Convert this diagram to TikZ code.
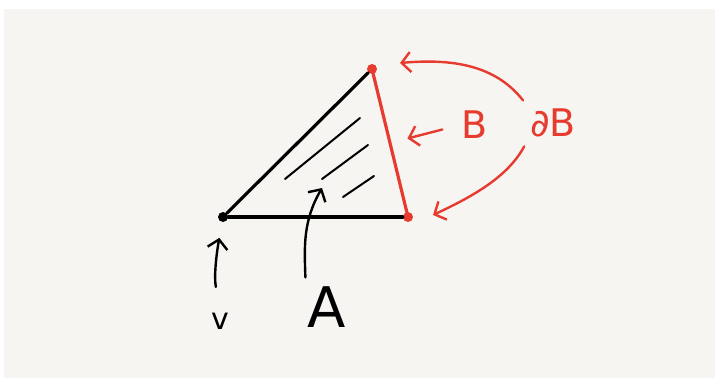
\documentclass[tikz,border=0pt]{standalone}
\usepackage{fontspec}
\setmainfont{DejaVu Sans}
\usepackage{tikz}
\usetikzlibrary{positioning,arrows.meta}
\definecolor{pen}{HTML}{E63B2E}
\definecolor{paper}{HTML}{F7F5F1}

\begin{document}
\begin{tikzpicture}[x=1pt, y=1pt, line cap=round, line join=round, dot/.style={circle, fill, inner sep=0pt, minimum size=10pt}, lbl/.style={inner sep=2pt}, edge/.style={line width=3.2pt}, hatch/.style={line width=2pt}, ptr/.style={line width=2.4pt, -{Straight Barb[length=9pt, width=20pt, line width=2.4pt]}}]
\useasboundingbox (0,0) rectangle (719,381);
\fill[white] (0,0) rectangle (719,381);
\fill[paper] (4,3) rectangle (715,372);
% triangle
\node[dot] (v) at (223,164) {};
\node[dot, pen] (q) at (408,164) {};
\node[dot, pen] (p) at (372,312) {};
\draw[edge] (v) -- (p); \draw[edge] (v) -- (q); \draw[edge, pen] (p) -- (q);
\draw[hatch] (285,202) -- (360,263); \draw[hatch] (322,202) -- (368,236); \draw[hatch] (343,184) -- (374,205);
\coordinate (area) at (322,193);
\coordinate (ptip) at ([xshift=28pt, yshift=6pt]p);
\coordinate (qtip) at ([xshift=25pt, yshift=2pt]q);
\path (p) -- (q) coordinate[pos=0.5] (mid);
% labels
\node[lbl] (vl) at (220,60) {\fontsize{30}{30}\selectfont v};
\node[lbl] (al) at (327,74) {\fontsize{56}{56}\selectfont A};
\node[lbl, pen] (bl) at (475,256) {\fontsize{38}{38}\selectfont B};
\node[lbl, pen] (dbl) at (553,258) {\fontsize{38}{38}\selectfont ∂B};
% pointers
\draw[ptr, shorten <=24pt, shorten >=16pt] (vl.north) to[out=100, in=-100] (v);
\draw[ptr, shorten <=7pt] (al.north west) to[out=92, in=240] (area);
\draw[ptr, pen, shorten <=18pt, shorten >=18pt] (bl.west) -- (mid);
\draw[ptr, pen, shorten <=8pt] (dbl.north west) to[out=128, in=5] (ptip);
\draw[ptr, pen, shorten <=8pt] (dbl.south west) to[out=-118, in=25, looseness=0.9] (qtip);
\end{tikzpicture}
\end{document}
